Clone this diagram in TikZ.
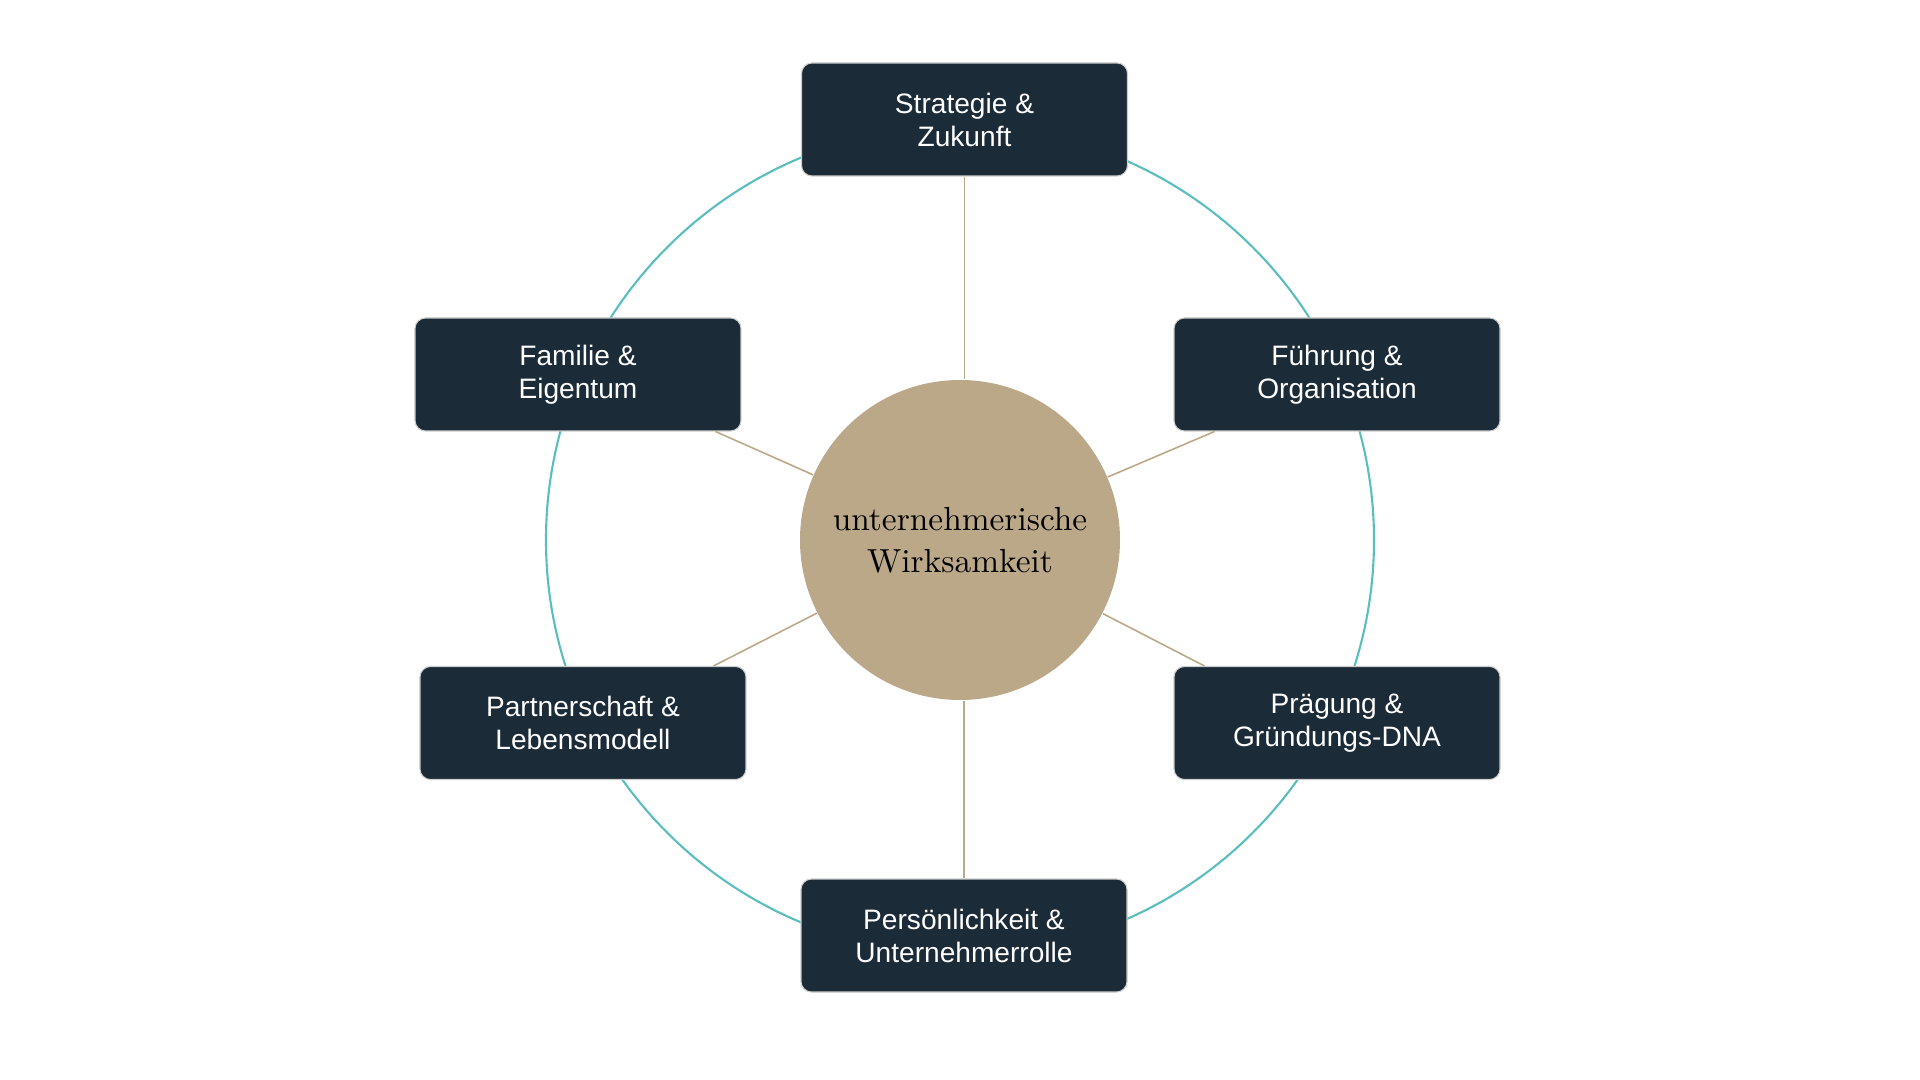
\documentclass[tikz,border=0pt]{standalone}
\usepackage{fontspec}
\newfontfamily\boxfont{Liberation Sans}
\definecolor{boxnavy}{RGB}{27,43,56}
\definecolor{coretan}{RGB}{187,168,137}
\definecolor{ringteal}{RGB}{91,190,190}
\usetikzlibrary{calc,positioning}

\begin{document}
\begin{tikzpicture}[
		field/.style={rectangle, rounded corners=3pt, fill=boxnavy, draw=black!20, line width=0.3pt,
			minimum width=3.26cm, minimum height=1.13cm, text=white, align=center,
			font=\boxfont\fontsize{8}{9.4}\selectfont},
		core/.style={circle, fill=coretan, minimum size=3.2cm, inner sep=0pt, align=center,
			font=\fontsize{9.5}{11.9}\selectfont},
		spoke/.style={draw=coretan, line width=0.45pt}
	]
		\useasboundingbox (-9.6,-5.4) rectangle (9.6,5.4);
		
		\draw[ringteal, line width=0.6pt] (0,0) circle (4.14);
		
		\node[core] (core) at (0,0) {unternehmerische\\Wirksamkeit};
		
		\node[field] (strat) at (0.045,4.205) {Strategie \&\\Zukunft};
		\node[field] (fuehr) at (3.77,1.655) {Führung \&\\Organisation};
		\node[field] (praeg) at (3.77,-1.83) {Prägung \&\\Gründungs-DNA};
		\node[field] (pers) at (0.04,-3.955) {Persönlichkeit \&\\Unternehmerrolle};
		\node[field] (partner) at (-3.77,-1.83) {Partnerschaft \&\\Lebensmodell};
		\node[field] (fam) at (-3.82,1.655) {Familie \&\\Eigentum};
		
		% spokes
		\draw[spoke] (strat.south) -- (strat.south |- core.north);
		\draw[spoke] (pers.north) -- (pers.north |- core.south);
		\draw[spoke] ($(fuehr.south west)+(0.41,0)$) -- (core);
		\draw[spoke] ($(praeg.north west)+(0.31,0)$) -- (core);
		\draw[spoke] ($(partner.north east)+(-0.33,0)$) -- (core);
		\draw[spoke] ($(fam.south east)+(-0.26,0)$) -- (core);
		\end{tikzpicture}
\end{document}
